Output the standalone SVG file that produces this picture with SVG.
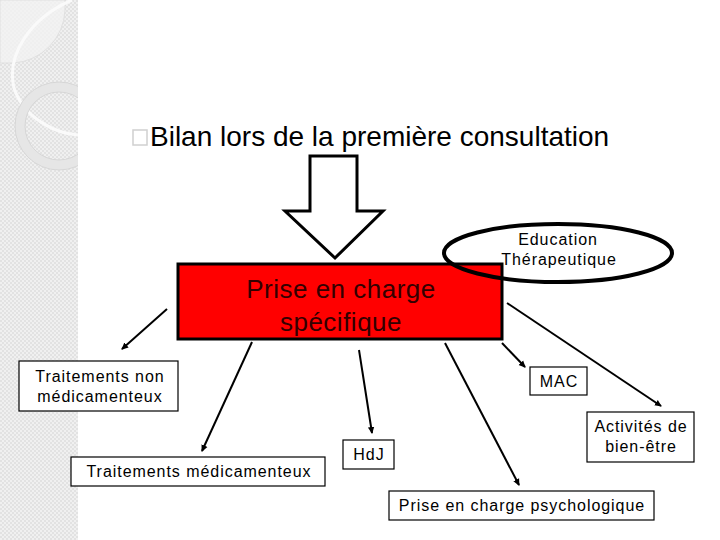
<svg xmlns="http://www.w3.org/2000/svg" width="720" height="540" viewBox="0 0 720 540">
<style>
.t{font-family:"Liberation Sans",Arial,sans-serif;fill:#000}
.box{fill:#fff;stroke:#000;stroke-width:1.2}
.lbl{font-size:16px;letter-spacing:0.95px;text-anchor:middle}
.con{stroke:#000;stroke-width:2;fill:none;marker-end:url(#ah)}
</style>
<defs>
<pattern id="chk" width="4" height="4" patternUnits="userSpaceOnUse">
<rect width="4" height="4" fill="#f0f0f0"/>
<rect width="2" height="2" fill="#e2e2e2"/>
<rect x="2" y="2" width="2" height="2" fill="#e2e2e2"/>
</pattern>
<clipPath id="strip"><rect x="0" y="0" width="78" height="540"/></clipPath>
<marker id="ah" markerWidth="8" markerHeight="8" refX="6" refY="4" orient="auto" markerUnits="userSpaceOnUse">
<path d="M0,0.8 L7,4 L0,7.2 z" fill="#000"/>
</marker>
</defs>
<rect width="720" height="540" fill="#fff"/>
<g id="background" clip-path="url(#strip)">
<rect x="0" y="0" width="78" height="540" fill="url(#chk)"/>
<path d="M0,0 H65 V10 A55,55 0 0 1 13,63 H0 z" fill="#f2f2f2" fill-opacity="0.8" stroke="#dcdcdc" stroke-width="0.8"/>
<path d="M72,0 C30,18 6,55 14,88 C24,118 55,134 80,135" fill="none" stroke="#fafafa" stroke-width="3"/>
<circle cx="59" cy="126" r="39" fill="none" stroke="#e6e6e6" stroke-width="10"/>
<circle cx="59" cy="126" r="44" fill="none" stroke="#d2d2d2" stroke-width="0.8"/>
<circle cx="59" cy="126" r="34" fill="none" stroke="#d2d2d2" stroke-width="0.8"/>
</g>
<g id="title">
<rect x="133" y="130" width="14" height="15" fill="none" stroke="#d0d0d0" stroke-width="1.5"/>
<text class="t" x="150" y="146" font-size="28">Bilan lors de la première consultation</text>
</g>
<g id="bigarrow">
<polygon points="310,156 357,156 357,211 383,211 335,258 285,211 310,211" fill="#fff" stroke="#000" stroke-width="3" stroke-linejoin="miter"/>
</g>
<g id="connectors">
<line class="con" x1="167" y1="309" x2="122" y2="349"/>
<line class="con" x1="252" y1="342" x2="202" y2="451"/>
<line class="con" x1="359" y1="350" x2="372" y2="433"/>
<line class="con" x1="445" y1="343" x2="519" y2="485"/>
<line class="con" x1="502" y1="343" x2="525" y2="367"/>
<line class="con" x1="507" y1="303" x2="661" y2="406"/>
</g>
<g id="prise-specifique">
<rect x="178" y="264" width="324" height="75" fill="#ff0000" stroke="#000" stroke-width="3"/>
<text class="t" x="341" y="298" font-size="26" letter-spacing="0.5" text-anchor="middle" style="fill:#330000">Prise en charge</text>
<text class="t" x="341" y="331" font-size="26" letter-spacing="0.5" text-anchor="middle" style="fill:#330000">spécifique</text>
</g>
<g id="education">
<ellipse cx="558" cy="253" rx="114" ry="29" fill="none" stroke="#000" stroke-width="4"/>
<text class="t lbl" x="558" y="245">Education</text>
<text class="t lbl" x="559" y="265">Thérapeutique</text>
</g>
<g id="non-medic">
<rect class="box" x="19" y="361" width="159" height="50"/>
<text class="t lbl" x="100" y="382">Traitements non</text>
<text class="t lbl" x="100" y="402">médicamenteux</text>
</g>
<g id="medic">
<rect class="box" x="71" y="457" width="254" height="29"/>
<text class="t lbl" x="199" y="477">Traitements médicamenteux</text>
</g>
<g id="hdj">
<rect class="box" x="343" y="440" width="51" height="29"/>
<text class="t lbl" x="369" y="460">HdJ</text>
</g>
<g id="mac">
<rect class="box" x="530" y="367" width="57" height="28"/>
<text class="t lbl" x="559" y="387">MAC</text>
</g>
<g id="bien-etre">
<rect class="box" x="587" y="412" width="107" height="50"/>
<text class="t lbl" x="641" y="432">Activités de</text>
<text class="t lbl" x="641" y="452">bien-être</text>
</g>
<g id="psy">
<rect class="box" x="389" y="491" width="265" height="29"/>
<text class="t lbl" x="522" y="511">Prise en charge psychologique</text>
</g>
</svg>
